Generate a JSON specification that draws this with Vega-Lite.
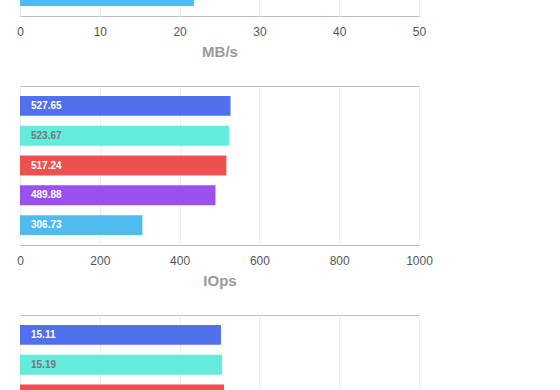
{
  "$schema": "https://vega.github.io/schema/vega-lite/v6.json",
  "padding": {"top": -144, "left": 16, "right": 0, "bottom": 0},
  "spacing": 25,
  "background": "white",
  "config": {
    "font": "Liberation Sans",
    "view": {"stroke": "#BBBBBB", "strokeWidth": 1},
    "axis": {
      "grid": true, "gridColor": "#EEEEEE", "domain": false, "ticks": false, "labelFlush": false,
      "labelColor": "#555555", "labelFont": "Liberation Sans", "labelFontSize": 12, "labelPadding": 10,
      "titleColor": "#999999", "titleFont": "Liberation Sans", "titleFontSize": 15, "titleFontWeight": "bold", "titlePadding": 7
    }
  },
  "vconcat": [
    {
      "width": 399, "height": 159,
      "data": {"values": [{"series": "s5", "value": 21.8}]},
      "encoding": {
        "y": {"field": "series", "type": "nominal", "axis": null,
              "scale": {"domain": ["s1","s2","s3","s4","s5"], "paddingInner": 0.3333, "paddingOuter": 0.3333}},
        "x": {"field": "value", "type": "quantitative", "title": "MB/s",
              "scale": {"domain": [0, 50]}, "axis": {"values": [0,10,20,30,40,50], "format": "d"}}
      },
      "layer": [
        {"mark": {"type": "bar"},
         "encoding": {"color": {"field": "series", "type": "nominal", "legend": null,
           "scale": {"domain": ["s1","s2","s3","s4","s5"], "range": ["#5070EE","#63EBDC","#EE5050","#9B50EE","#50BBEE"]}}}},
        {"mark": {"type": "text", "align": "left", "baseline": "middle", "fontSize": 10, "fontWeight": "bold", "dx": 11},
         "encoding": {"x": {"datum": 0, "type": "quantitative"}, "text": {"field": "value", "type": "quantitative", "format": ".2f"},
           "color": {"condition": {"test": "datum.series === 's2'", "value": "#777777"}, "value": "#FFFFFF"}}}
      ]
    },
    {
      "width": 399, "height": 159,
      "data": {"values": [
        {"series": "s1", "value": 527.65},
        {"series": "s2", "value": 523.67},
        {"series": "s3", "value": 517.24},
        {"series": "s4", "value": 489.88},
        {"series": "s5", "value": 306.73}
      ]},
      "encoding": {
        "y": {"field": "series", "type": "nominal", "axis": null,
              "scale": {"domain": ["s1","s2","s3","s4","s5"], "paddingInner": 0.3333, "paddingOuter": 0.3333}},
        "x": {"field": "value", "type": "quantitative", "title": "IOps",
              "scale": {"domain": [0, 1000]}, "axis": {"values": [0,200,400,600,800,1000], "format": "d"}}
      },
      "layer": [
        {"mark": {"type": "bar"},
         "encoding": {"color": {"field": "series", "type": "nominal", "legend": null,
           "scale": {"domain": ["s1","s2","s3","s4","s5"], "range": ["#5070EE","#63EBDC","#EE5050","#9B50EE","#50BBEE"]}}}},
        {"mark": {"type": "text", "align": "left", "baseline": "middle", "fontSize": 10, "fontWeight": "bold", "dx": 11},
         "encoding": {"x": {"datum": 0, "type": "quantitative"}, "text": {"field": "value", "type": "quantitative", "format": ".2f"},
           "color": {"condition": {"test": "datum.series === 's2'", "value": "#777777"}, "value": "#FFFFFF"}}}
      ]
    },
    {
      "width": 399, "height": 159,
      "data": {"values": [
        {"series": "s1", "value": 15.11},
        {"series": "s2", "value": 15.19},
        {"series": "s3", "value": 15.34}
      ]},
      "encoding": {
        "y": {"field": "series", "type": "nominal", "axis": null,
              "scale": {"domain": ["s1","s2","s3","s4","s5"], "paddingInner": 0.3333, "paddingOuter": 0.3333}},
        "x": {"field": "value", "type": "quantitative", "title": "ms",
              "scale": {"domain": [0, 30]}, "axis": {"values": [0,6,12,18,24,30], "format": "d"}}
      },
      "layer": [
        {"mark": {"type": "bar"},
         "encoding": {"color": {"field": "series", "type": "nominal", "legend": null,
           "scale": {"domain": ["s1","s2","s3","s4","s5"], "range": ["#5070EE","#63EBDC","#EE5050","#9B50EE","#50BBEE"]}}}},
        {"mark": {"type": "text", "align": "left", "baseline": "middle", "fontSize": 10, "fontWeight": "bold", "dx": 11},
         "encoding": {"x": {"datum": 0, "type": "quantitative"}, "text": {"field": "value", "type": "quantitative", "format": ".2f"},
           "color": {"condition": {"test": "datum.series === 's2'", "value": "#777777"}, "value": "#FFFFFF"}}}
      ]
    }
  ]
}
